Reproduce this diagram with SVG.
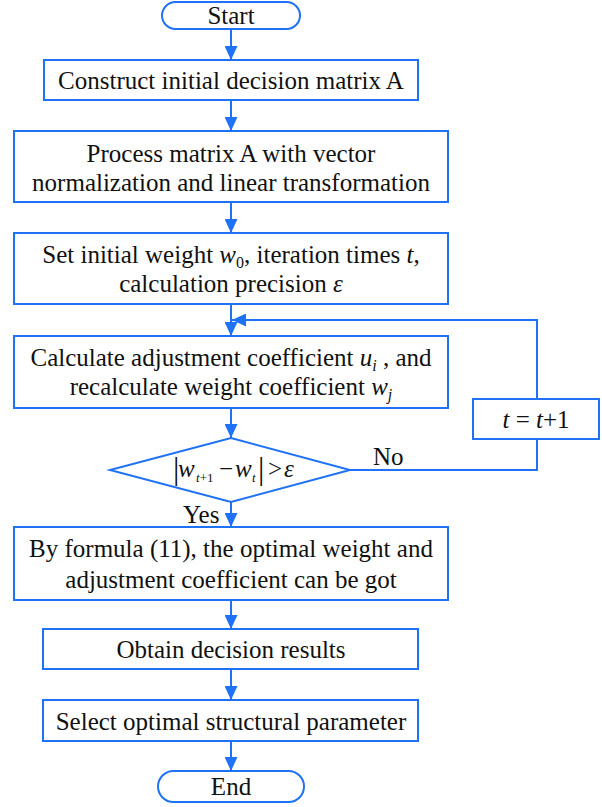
<svg xmlns="http://www.w3.org/2000/svg" width="602" height="807" viewBox="0 0 602 807" font-family="'Liberation Serif', 'Times New Roman', serif" font-size="25">
<defs>
<style>
.n{fill:#fff;stroke:#1f72f5;stroke-width:2}
.c{fill:none;stroke:#1f72f5;stroke-width:2}
.t{font-family:'Liberation Serif','Times New Roman',serif;font-size:25px;fill:#111}
.m{text-anchor:middle}
.i{font-style:italic}
.s{font-size:16px}
.q{font-size:13px}
.b{font-size:32px}
</style>
<marker id="ah" viewBox="0 0 14 13" refX="14" refY="6.5" markerWidth="14" markerHeight="13" markerUnits="userSpaceOnUse" orient="auto">
<path d="M0,0 L14,6.5 L0,13 z" fill="#1f72f5"/>
</marker>
</defs>
<rect width="602" height="807" fill="#fff"/>
<g id="connectors">
<line class="c" x1="231" y1="29" x2="231" y2="60" marker-end="url(#ah)"/>
<line class="c" x1="231" y1="100" x2="231" y2="131" marker-end="url(#ah)"/>
<line class="c" x1="231" y1="202" x2="231" y2="233" marker-end="url(#ah)"/>
<line class="c" x1="231" y1="304" x2="231" y2="336" marker-end="url(#ah)"/>
<line class="c" x1="231" y1="408" x2="231" y2="438" marker-end="url(#ah)"/>
<line class="c" x1="231" y1="502" x2="231" y2="527" marker-end="url(#ah)"/>
<line class="c" x1="231" y1="600" x2="231" y2="629" marker-end="url(#ah)"/>
<line class="c" x1="231" y1="669" x2="231" y2="700" marker-end="url(#ah)"/>
<line class="c" x1="231" y1="741" x2="231" y2="771" marker-end="url(#ah)"/>
<polyline class="c" points="350,470 537,470 537,439"/>
<polyline class="c" points="537,399 537,320 232,320" marker-end="url(#ah)"/>
<text class="t" x="373" y="465">No</text>
<text class="t" x="183" y="523">Yes</text>
</g>
<g id="start">
<rect class="n" x="162" y="2" width="138" height="27" rx="13.5"/>
<text class="t m" x="231" y="24">Start</text>
</g>
<g id="construct">
<rect class="n" x="44" y="60" width="374" height="40"/>
<text class="t m" x="231" y="89">Construct initial decision matrix A</text>
</g>
<g id="process">
<rect class="n" x="14" y="131" width="434" height="71"/>
<text class="t m" x="231" y="162">Process matrix A with vector</text>
<text class="t m" x="231" y="191">normalization and linear transformation</text>
</g>
<g id="setinit">
<rect class="n" x="14" y="233" width="434" height="71"/>
<text class="t m" x="231" y="263">Set initial weight <tspan class="i">w</tspan><tspan class="s" dy="5">0</tspan><tspan dy="-5">, iteration times </tspan><tspan class="i">t</tspan>,</text>
<text class="t m" x="231" y="292">calculation precision <tspan class="i">ε</tspan></text>
</g>
<g id="calculate">
<rect class="n" x="14" y="336" width="434" height="72"/>
<text class="t m" x="231" y="366">Calculate adjustment coefficient <tspan class="i">u</tspan><tspan class="s i" dy="5">i</tspan><tspan dy="-5"> , and</tspan></text>
<text class="t m" x="231" y="395">recalculate weight coefficient <tspan class="i">w</tspan><tspan class="s i" dy="5">j</tspan></text>
</g>
<g id="decision">
<polygon class="n" points="231,438 350,470 231,502 110,470"/>
<text class="t b" x="173" y="479">|</text>
<text class="t i" x="178" y="477">w</text>
<text class="t q" x="196" y="482"><tspan class="i">t</tspan>+1</text>
<text class="t" x="219" y="477">−</text>
<text class="t i" x="235" y="477">w</text>
<text class="t q i" x="252" y="482">t</text>
<text class="t b" x="258" y="479">|</text>
<text class="t" x="268" y="477">&gt;</text>
<text class="t i" x="284" y="477">ε</text>
</g>
<g id="increment">
<rect class="n" x="473" y="399" width="126" height="40"/>
<text class="t m" x="536" y="428"><tspan class="i">t</tspan> = <tspan class="i">t</tspan>+1</text>
</g>
<g id="formula">
<rect class="n" x="14" y="527" width="434" height="73"/>
<text class="t m" x="231" y="557">By formula (11), the optimal weight and</text>
<text class="t m" x="231" y="588">adjustment coefficient can be got</text>
</g>
<g id="obtain">
<rect class="n" x="43" y="629" width="375" height="40"/>
<text class="t m" x="231" y="658">Obtain decision results</text>
</g>
<g id="select">
<rect class="n" x="43" y="700" width="375" height="41"/>
<text class="t m" x="231" y="730">Select optimal structural parameter</text>
</g>
<g id="end">
<rect class="n" x="158" y="771" width="146" height="31" rx="15.5"/>
<text class="t m" x="231" y="795">End</text>
</g>
</svg>
